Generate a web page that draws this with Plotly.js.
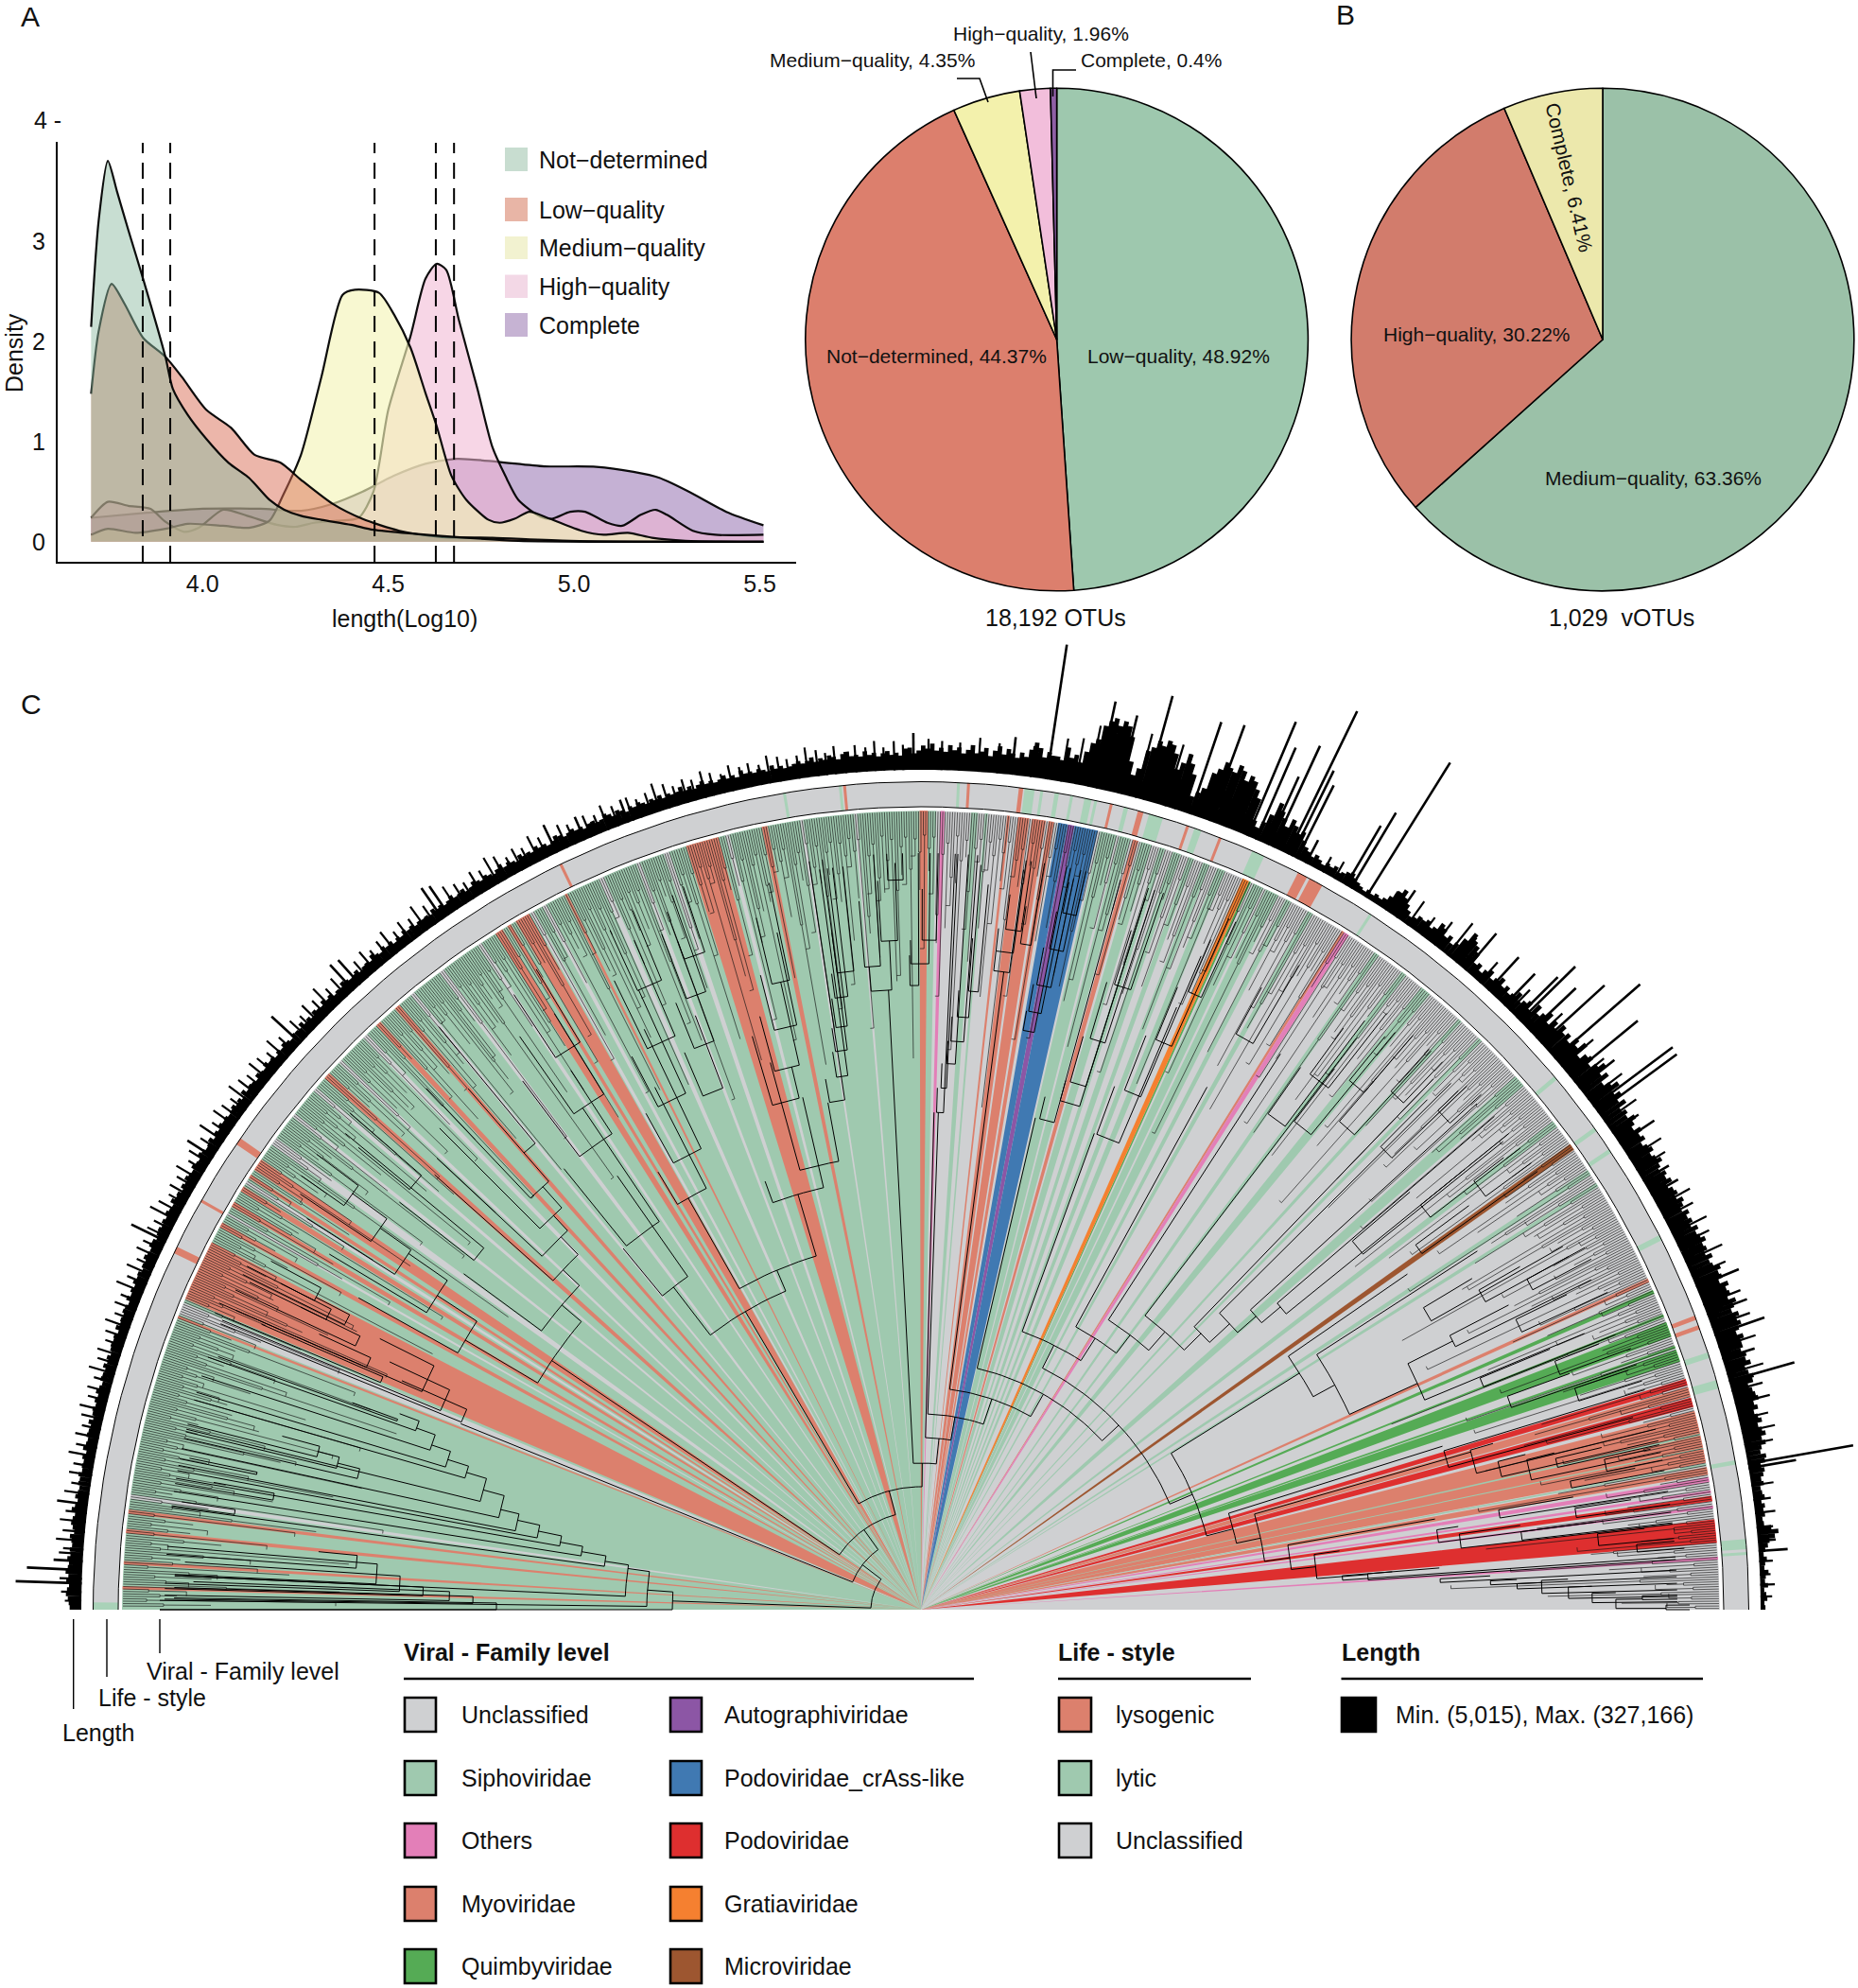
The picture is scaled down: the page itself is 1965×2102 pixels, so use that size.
<!DOCTYPE html>
<html><head><meta charset="utf-8">
<script src="https://cdn.plot.ly/plotly-3.0.1.min.js"></script>
<style>html,body{margin:0;padding:0;background:#fff}#chart{width:1965px;height:2102px}</style>
</head><body><div id="chart"></div>
<script>
// ---------- Panel A: density curves (length log10, density) ----------
const notDetX=[3.70,3.72,3.745,3.77,3.80,3.84,3.90,3.92,3.96,4.01,4.07,4.125,4.18,4.22,4.265,4.32,4.40,4.46,4.57,4.71,4.85,5.10,5.51];
const notDetY=[2.15,3.20,3.81,3.50,3.12,2.63,1.85,1.53,1.27,1.03,0.79,0.64,0.42,0.32,0.26,0.22,0.17,0.12,0.08,0.04,0.01,0,0];
const lowX=[3.70,3.72,3.755,3.79,3.84,3.90,3.944,4.01,4.077,4.14,4.21,4.265,4.35,4.43,4.53,4.64,4.78,4.99,5.51];
const lowY=[1.48,2.10,2.58,2.38,2.04,1.85,1.65,1.32,1.14,0.87,0.79,0.62,0.38,0.23,0.11,0.05,0.04,0.01,0];
const medX=[3.70,3.745,3.82,3.90,3.96,4.055,4.125,4.18,4.216,4.265,4.32,4.377,4.41,4.475,4.516,4.56,4.60,4.63,4.67,4.71,4.77,4.80,4.84,4.88,4.935,5.02,5.08,5.145,5.21,5.30,5.51];
const medY=[0.07,0.13,0.09,0.13,0.18,0.16,0.14,0.21,0.46,0.87,1.65,2.47,2.52,2.49,2.27,1.94,1.49,1.16,0.66,0.42,0.22,0.19,0.23,0.30,0.23,0.11,0.07,0.09,0.04,0.01,0];
const highX=[3.70,3.745,3.80,3.86,3.90,3.95,3.99,4.055,4.12,4.20,4.25,4.30,4.36,4.42,4.46,4.50,4.56,4.60,4.63,4.656,4.69,4.74,4.78,4.815,4.85,4.91,4.94,4.99,5.03,5.09,5.13,5.18,5.22,5.25,5.32,5.38,5.51];
const highY=[0.24,0.40,0.36,0.33,0.20,0.10,0.14,0.32,0.26,0.17,0.15,0.19,0.21,0.24,0.50,1.32,2.06,2.63,2.78,2.72,2.22,1.53,0.95,0.66,0.42,0.25,0.23,0.30,0.30,0.19,0.16,0.27,0.32,0.27,0.11,0.07,0.07];
const compX=[3.70,3.85,4.00,4.155,4.265,4.35,4.43,4.515,4.60,4.685,4.795,4.92,5.06,5.16,5.23,5.31,5.41,5.51];
const compY=[0.24,0.29,0.33,0.33,0.31,0.38,0.50,0.66,0.78,0.83,0.80,0.755,0.75,0.70,0.64,0.50,0.30,0.165];
const medianLines=[3.839,3.913,4.463,4.628,4.677];
const densityNames=['Not\u2212determined','Low\u2212quality','Medium\u2212quality','High\u2212quality','Complete'];
const densitySwatch=['#C8DDD0','#E8B5A6','#F2F2D0','#F3D8E6','#C6B3D3'];

// ---------- Panels A/B: pies ----------
const pieALabels=['Low-quality','Not-determined','Medium-quality','High-quality','Complete'];
const pieAValues=[48.92,44.37,4.35,1.96,0.40];
const pieAColors=['#9EC8AE','#DC7F6D','#F3F1AC','#F2BEDB','#8E5FA5'];
const pieBLabels=['Medium-quality','High-quality','Complete'];
const pieBValues=[63.36,30.22,6.41];
const pieBColors=['#9BC1A8','#D27C6C','#ECE8AC'];

// ---------- Panel C: family spans around the half circle, in degrees (0 = right, 180 = left) ----------
const famColors={Unclassified:'#CFD0D2',Siphoviridae:'#9FC9AF',Others:'#E37FB8',Myoviridae:'#DC806D',Quimbyviridae:'#55AB55',
 Autographiviridae:'#8C56A5','Podoviridae_crAss-like':'#4079B2',Podoviridae:'#DE2F2F',Gratiaviridae:'#F58030',Microviridae:'#9D5630'};
const unclassifiedBase=[[0,180]];
const siphoSpans=[[88.9,180],[85.9,86.4],[85.2,85.4],[74.8,77],[73.2,74],[72.2,72.6],[71,71.6],[70,70.4],[68.8,69.3],[67.6,68.2],[64.6,65.4],[63.4,64.4],[62.4,62.8],[60.6,61],[55,55.4],[52.6,53],[50.4,51.2],[47.4,47.7],[45.4,45.7],[41,41.9],[37.2,37.7],[33,33.4],[32,32.3]];
const greyStrips=[[171.7,172],[157.4,158.3],[150.2,150.4],[147.5,147.8],[143.8,144.4],[141.6,141.9],[139.2,139.5],[136.5,136.8],[133.9,134.3],[129.4,129.7],[126.7,127.1],[123.4,123.7],[119,119.3],[118,118.3],[113.4,113.8],[110.6,110.9],[108.4,108.8],[103.9,104.2],[98.5,98.7],[94.6,94.8],[75.6,75.8]];
const myoSpans=[[178.3,178.55],[176.5,176.75],[174.2,174.5],[172.8,173.1],[158.4,158.6],[152.6,157.1],[151,151.4],[149.3,149.7],[148,148.4],[147,147.3],[145.7,146.6],[137.8,138.3],[132.6,133],[130.8,131.2],[121.6,122.2],[120.9,121.2],[119.4,120.5],[116.3,116.5],[104.7,107.1],[101.1,101.5],[89.5,90.1],[83.6,83.8],[82.2,83],[81,82],[80.4,80.8],[74.2,74.6],[58,58.2],[24.2,24.5],[15.5,16.2],[10.6,14.4],[9.75,10.3]];
const siphoOver=[[152,152.3],[12.6,12.75],[11.6,11.7],[10.4,10.55]];
const othersSpans=[[88.3,88.6],[57.6,58],[9.2,9.55],[8.4,8.6],[7.3,7.5],[3.6,3.8]];
const quimbySpans=[[65.6,65.75],[23.3,23.6],[21.5,21.7],[20,21.1],[19.1,19.3],[18.1,19]];
const autographSpans=[[78.9,79.4]];
const crassSpans=[[79.4,80.1],[77.2,78.9]];
const podoSpans=[[16.3,16.8],[14.7,15.4],[7.8,8.2],[4.8,6.5]];
const gratiaSpans=[[65.75,66.25]];
const microSpans=[[35.15,35.65]];

// life-style ring
const lyticRing=[[179.5,180],[99.4,99.6],[95.5,95.7],[87.3,87.5],[82.1,82.8],[81.5,81.7],[80.4,80.7],[79.4,79.6],[78.1,78.6],[77.7,77.9],[75.5,75.8],[73,74],[70.2,70.7],[65.5,66.4],[57,57.2],[39.8,40.1],[35.3,35.6],[33.5,33.8],[26.5,26.9],[17.7,18.1],[15.5,16.1],[10.1,10.4],[4.2,4.9],[3.8,4]];
const lysoRing=[[154,154.5],[150.3,150.5],[145.3,145.8],[115.7,115.9],[95.2,95.4],[86.6,86.8],[82.9,83.2],[76.6,76.8],[74.4,74.8],[71.1,71.3],[68.7,68.9],[62.2,62.9],[61,62],[20.5,20.8],[19.8,20.1]];

// tree: clades [angle1, angle2, node radius, radius reached outward at angle1, at angle2]
const cladeTable=[
[178,142.5,53,263,78],[175.9,180,263,290,805],[172,179.3,290,313,805],[171.3,177.4,313,338,790],[170.3,172.2,338,364,800],[169.4,171,364,388,800],[168.4,170,388,413,800],[167.5,169.4,413,437,800],[166.6,169,437,457,800],[164.7,167.7,457,480,800],[163.2,166.2,480,502,800],[162.4,163.9,502,525,800],[161.4,163.3,525,546,800],[160.2,162,546,567,800],[159.4,160.5,567,589,800],[160,160.2,589,640,790],
[158,125.5,78,525,104],[156.2,157.8,525,600,800],[155,157.5,550,620,800],[153.4,156.4,576,640,790],[154,155,660,730,800],[155.4,156.4,640,700,810],[156.6,157.2,620,760,810],[152.7,153.7,680,720,800],[153,154,700,760,790],[151.8,153,720,780,800],
[174.5,175.8,599,640,800],[175.2,177.3,577,800,790],[176.3,178,552,780,800],[177.4,178.4,527,790,800],[177.8,178.9,499,770,800],[178.3,179.2,474,790,800],[179.1,180,449,790,805],[165.9,166.9,612,636,800],[165.3,166.4,636,659,800],[164.8,165.8,659,700,800],[169.8,170.4,695,760,800],[171.7,172.1,733,790,800],[168.3,168.5,717,790,800],
[146,105,104,471,130],[149.4,139.7,471,560,498],[151,147,560,680,610],[149,145.2,610,730,660],[147.5,144.8,660,770,700],[146.2,143.8,700,790,745],[145,143,745,800,800],[143.7,136.5,498,600,522],[138.2,134,522,690,548],[137,133,548,700,570],[135,131.8,570,720,600],[133.5,131,600,760,640],[142,140.4,600,700,790],[140.6,139,700,770,800],[131,129.6,640,730,800],
[120.5,89.5,130,366,155],[127.5,113,366,430,390],[129.5,125,430,495,560],[129,124,495,600,640],[127,123,600,700,680],[125,121.6,640,740,740],[123.5,121,700,780,790],[119.5,106.5,390,500,458],[121,117,500,540,620],[119,115.5,540,600,680],[117.6,114.5,600,660,720],[116,113.2,660,740,770],[114.6,112.4,720,790,800],[110,103,458,482,556],[105.4,100.4,482,600,545],
[106.4,103.4,556,632,590],[105.2,102.6,590,650,680],[104.2,102,632,692,732],[103.4,101.8,680,752,785],[113,110.8,590,640,672],[112,110,640,692,752],[111,109.2,692,765,800],[110,108.2,732,785,805],
[100.2,98.5,545,570,800],[99,97.8,570,597,790],[98.7,97.5,597,622,800],[98.3,97.2,622,653,790],[98,96.8,653,679,790],[97.5,96,679,722,790],
[93,84,155,656,182],[94.6,92.7,656,682,708],[95,93.6,682,752,800],[93.4,92,708,772,790],[92.6,91.4,772,800,800],[91,90.2,660,692,800],[90.9,89.3,683,708,800],[89.9,88.7,708,762,800],
[88.5,80,182,526,207],[88,71.4,207,526,235],[88.2,87.4,526,552,800],[87.8,87.2,552,578,800],[87.3,86.4,578,602,800],[87,85.7,602,628,800],[86.5,85.4,628,656,790],[85.6,84.7,656,712,770],
[82.6,60.4,235,680,262],[83.5,82.1,680,701,790],[83.5,82,701,725,800],[82.9,81.6,725,762,800],[81.5,80.6,712,752,800],
[80,78.9,622,643,800],[79.8,78.6,643,672,800],[79.5,78.2,672,712,790],[79,77.8,712,752,800],[78.5,77.4,752,785,800],
[76.9,43,262,534,286],[76.4,74.7,534,558,800],[74.7,72.5,558,580,800],[74.2,72.5,580,630,790],[73.5,72,630,692,800],[72.8,71.3,692,752,800],
[63.3,23,286,313,312],[70,57.3,313,536,341],[69.7,67,536,590,692],[68.6,66.8,590,652,752],[67.6,66,652,712,800],[66.6,65.4,712,772,800],
[61.3,52.7,341,630,365],[61.3,59.6,694,750,790],[57.1,48.7,365,700,391],[52.7,44.6,391,760,416],[46,42.8,416,780,445],[44.8,41.2,445,790,471],[42.3,40.1,471,795,497],[40.7,39,497,800,800],
[55,53,640,700,780],[54,52,700,760,800],[52.6,50.6,650,720,790],[51,49.4,720,780,800],[49.4,47.6,680,740,800],[47.8,46.4,740,800,800],[45.2,43.8,690,760,800],[44,42.6,760,790,805],[40.5,38.8,600,680,790],[39,37.6,680,740,800],[37.8,36.2,740,780,800],[36.4,35.4,650,720,800],
[32,14.5,312,472,341],[34.6,28.5,472,625,498],[32.8,24.5,498,700,577],[26.8,22.6,577,630,760],[31,29.5,620,680,780],[29.8,28.6,680,730,800],[28.6,27.6,730,780,800],[27.4,26.2,630,700,790],[26,24.8,700,760,800],[22.5,21.6,640,720,790],[21.4,20.2,720,770,800],[20,18.9,660,730,800],[18.7,17.6,730,790,800],
[17.4,11.9,341,578,367],[16.9,15.1,578,800,780],[16,8,367,605,394],[16.2,13.8,605,630,800],[14.4,12.9,630,660,800],[13.9,12,660,690,800],[13.4,12.6,690,740,800],[12.4,11.4,740,790,800],[11.2,10.6,700,770,800],[10,6.2,394,552,420],[8.8,7.4,552,575,800],[8,6.5,575,640,800],[9.8,9,620,700,800],[8.8,8,700,760,800],[7.4,6.6,640,720,800],[6.4,5.4,720,770,800],[5.2,4.6,760,800,810],
[8,4.5,420,447,474],[4.6,4,447,550,800],[4.6,3.8,474,500,800],[3.4,3,550,603,800],[2.9,2.5,603,631,800],[2.5,2,631,657,800],[2.7,1.5,657,685,800],[2,1,685,710,800],[1.4,0.6,710,735,800],[0.85,0.1,735,763,788],[1.1,0.8,763,800,800],[0.35,0,788,813,813]
];
// how far behind the tips the pairs of leaves join, and how far their stems run inward: a hand-set cycle
const leafJoinDepth=[26,44,30,62,28,38,84,30,52,26,70,34,46,110,28,40];
const pairStemDepth=[30,60,24,120,40,18,200,50,30,90,150];
const leafCount=1029;

// length bars: kb per 0.3 degree bin from 0 to 180
const lengthKb=[
10,8,14,12,8,16,10,12,18,10,12,16,10,14,20,24,36,44,30,16,14,20,18,22,16,24,20,18,26,22,
28,32,26,36,40,30,34,44,38,48,42,36,46,40,34,44,38,50,46,42,36,48,52,44,40,54,46,50,42,48,
48,56,44,52,60,54,62,50,58,66,52,60,56,64,48,58,54,62,50,46,56,44,52,48,58,50,46,54,42,50,
44,52,40,48,54,42,50,46,38,52,44,50,40,46,56,48,42,52,46,38,50,44,54,40,48,58,44,50,42,60,
48,62,50,70,56,44,64,52,72,58,46,60,54,40,68,50,62,44,56,48,60,42,54,38,58,46,36,52,30,44,
36,28,42,30,24,34,26,40,30,22,36,28,18,30,24,44,54,60,72,50,32,24,36,28,40,46,30,24,34,28,
30,22,18,26,36,44,58,48,30,20,14,18,12,16,10,14,18,22,30,26,20,16,24,18,22,14,20,26,18,24,
30,40,56,48,60,70,50,64,76,90,60,40,24,36,80,96,110,118,104,122,130,112,118,126,108,96,60,48,36,80,
100,118,96,80,110,126,132,118,126,110,100,60,44,70,120,140,148,136,150,142,130,100,90,70,46,60,52,72,44,50,
50,56,44,62,72,56,40,48,36,44,52,40,56,46,34,50,42,38,54,44,36,48,42,52,38,46,40,54,44,50,
40,34,46,44,30,36,32,40,36,30,38,34,42,32,36,34,44,40,30,36,40,32,36,30,40,34,30,36,32,28,
26,32,28,36,26,30,34,28,32,30,38,26,32,28,36,30,26,32,28,36,30,24,32,26,36,28,26,30,24,32,
26,30,24,28,32,26,30,22,28,32,24,30,34,26,24,30,28,22,28,26,32,28,24,30,34,26,22,28,26,32,
24,28,26,32,22,26,30,24,34,28,22,26,30,24,28,32,24,22,30,26,24,32,26,22,28,24,30,22,26,24,
26,22,28,24,30,22,26,20,28,24,30,22,26,32,22,26,24,20,28,24,22,26,30,22,24,20,28,24,30,22,
24,28,20,26,22,30,22,24,26,20,24,28,22,26,20,26,24,30,22,24,28,20,24,26,22,30,20,26,22,28,
24,22,26,24,28,22,26,20,28,24,22,26,30,22,24,28,22,24,28,22,26,20,26,24,30,22,24,28,22,26,
22,26,24,20,26,28,22,24,28,22,24,20,26,24,28,22,26,22,28,20,24,26,22,24,22,28,20,26,24,26,
24,20,26,22,28,22,24,26,20,24,28,22,26,22,26,24,20,28,22,24,26,22,24,28,20,26,22,24,22,28,
24,26,22,24,28,22,26,32,24,28,30,26,22,30,26,24,28,26,32,28,30,34,28,32,26,30,32,28,26,24];
// long single contigs: [angle, kb]
const lengthSpikes=[[81.4,280],[77.9,183],[76.4,165],[74.6,222],[71.3,200],[90.5,76],[83.8,78],[36.3,202],[36.8,204],[39.4,181],[41,233],[42.4,177],[44.5,160],[47.5,93],[49.6,99],[59.2,181],[59.6,142],[58,327],[64.1,327],[63.8,196],[65.2,230],[67.1,255],[69.9,210],[66.5,206],[65.6,154],[63.4,169],[62.7,54],[38.4,93],[43.5,130],[44.8,119],[46,91],[55.5,68],[10,220],[9.7,99],[15.8,140],[17.4,70],[19.1,109],[20.6,88],[22.6,95],[4,60],[4.7,37],[30.7,62],[29.6,64],[33.7,86],[178.2,136],[177.3,114],[176.7,60],[172.8,64],[154,80],[147.4,64],[137.6,82],[132.5,72],[131.9,68],[124.7,78],[124.2,72],[115.7,64],[113.6,52],[110.4,50]];
// shorter contigs standing above the solid band: [angle, kb]
const minorSpikes=[[91.2,52],[91.8,60],[92.5,48],[93.1,62],[93.7,50],[94.4,56],[95.1,44],[95.8,58],[96.4,46],[97,54],[97.7,62],[98.3,48],[99,44],[99.6,52],[100.3,58],[100.9,42],[101.6,50],[102.2,46],[102.9,54],[103.5,40],[104.2,48],[104.8,56],[105.5,44],[106.1,50],[106.8,42],[107.4,52],[108.1,60],[108.7,46],[109.4,40],[110,50],
[111.1,44],[111.8,54],[112.4,40],[113.1,48],[114.3,44],[114.9,52],[116.4,46],[117,58],[117.7,42],[118.3,50],[118.9,40],[119.6,54],[120.2,62],[120.9,44],[121.5,52],[122.2,40],[122.8,48],[123.5,56],[125.3,46],[126,60],[126.6,42],[127.3,50],[127.9,40],[128.6,56],[129.2,46],[129.9,40],[130.5,52],[131.2,44],[133.1,50],[133.8,42],
[134.4,60],[135,44],[135.7,52],[136.3,40],[137,48],[138.3,42],[139,56],[139.6,40],[140.3,48],[140.9,54],[141.6,42],[142.2,50],[142.9,58],[143.5,40],[144.2,46],[144.8,54],[145.5,42],[146.1,60],[146.8,44],[147.9,50],[148.5,40],[149.2,56],[149.8,44],[150.5,48],[151.1,40],[151.8,52],[152.4,62],[153.1,42],[153.7,48],[154.6,44],
[155.2,50],[155.9,40],[156.5,54],[157.2,44],[157.8,60],[158.5,42],[159.1,48],[159.8,40],[160.4,54],[161.1,46],[161.7,40],[162.4,50],[163,44],[163.7,56],[164.3,40],[165,48],[165.6,42],[166.3,54],[166.9,46],[167.6,40],[168.2,50],[168.9,44],[169.5,56],[170.2,42],[170.8,48],[171.5,40],[172.1,52],[173.4,44],[174,54],[174.7,46],[175.3,58],[175.9,42],[176.2,50],[177.9,46],[178.8,42],[179.4,34],
[0.9,24],[1.7,30],[2.4,22],[3.3,28],[5.6,34],[6.6,42],[7.5,36],[8.5,46],[11.3,60],[12.2,70],[13.1,62],[14.2,74],[15.1,66],[16.3,78],[18.2,80],[19.7,84],[21.3,82],[23.4,76],[24.5,84],[25.7,72],[26.6,80],[27.8,68],[28.7,76],[31.6,70],[32.5,78],[34.6,66],[35.5,80],[37.4,88],[38.9,78],[40.3,86],[42.9,74],[45.5,60],[48.3,56],[50.4,66],[51.2,84],[52.3,60],[53.4,46],[54.6,60],[56.4,46],[60.5,40],[61.4,36],[72.4,118],[73.1,132],[75.2,136],[78.5,128],[79.4,96],[80.4,90],[82.5,64],[84.8,62],[86.1,70],[87.4,58],[88.6,60],[89.5,64]];

// legends
const familyLegendCol1=['Unclassified','Siphoviridae','Others','Myoviridae','Quimbyviridae'];
const familyLegendCol2=['Autographiviridae','Podoviridae_crAss-like','Podoviridae','Gratiaviridae','Microviridae'];
const lifeLegend=[['lysogenic','#DC806D'],['lytic','#9FC9AF'],['Unclassified','#CFD0D2']];

// ---------- geometry helpers ----------
const W=1965,H=2102,FONT='"Liberation Sans",Arial,sans-serif';
const RAD=Math.PI/180;
const R_TIP=845,R_RING_IN=849,R_RING_OUT=875.5,R_BAR=888,PX_PER_KB=0.514;
const pol=(a,r)=>[r*Math.cos(a*RAD),r*Math.sin(a*RAD)];
function addArc(X,Y,a1,a2,r){const n=Math.max(1,Math.ceil(Math.abs(a2-a1)/1.5));
 for(let i=0;i<=n;i++){const p=pol(a1+(a2-a1)*i/n,r);X.push(p[0]);Y.push(p[1]);}}
function gap(X,Y){X.push(null);Y.push(null);}
function segment(X,Y,a,r1,r2){const p=pol(a,r1),q=pol(a,r2);X.push(p[0],q[0],null);Y.push(p[1],q[1],null);}
function wedges(spans,color,rIn,rOut){const X=[],Y=[];
 spans.forEach(s=>{addArc(X,Y,s[0],s[1],rOut);
  if(rIn>0)addArc(X,Y,s[1],s[0],rIn);else{X.push(0);Y.push(0);}
  const p=pol(s[0],rOut);X.push(p[0]);Y.push(p[1]);gap(X,Y);});
 return {type:'scatter',mode:'lines',x:X,y:Y,fill:'toself',fillcolor:color,line:{width:0,color:color},xaxis:'x2',yaxis:'y2',hoverinfo:'skip',showlegend:false};}
function strokes(X,Y,width,color){return {type:'scatter',mode:'lines',x:X,y:Y,line:{width:width,color:color||'#000'},xaxis:'x2',yaxis:'y2',hoverinfo:'skip',showlegend:false};}

const traces=[];
// density (drawn back to front)
[[compX,compY,'rgba(140,100,170,0.5)'],[highX,highY,'rgba(240,180,210,0.55)'],[medX,medY,'rgba(245,245,185,0.65)'],[lowX,lowY,'rgba(217,110,85,0.5)'],[notDetX,notDetY,'rgba(140,185,160,0.48)']]
.forEach(d=>traces.push({type:'scatter',mode:'lines',x:d[0],y:d[1],fill:'tozeroy',fillcolor:d[2],line:{color:'rgba(0,0,0,0.95)',width:2.2,shape:'spline',smoothing:0.7},xaxis:'x',yaxis:'y',hoverinfo:'skip',showlegend:false}));
// pies
function pie(labels,values,colors,cx,cy,r){return {type:'pie',labels:labels,values:values,sort:false,direction:'clockwise',rotation:0,textinfo:'none',hoverinfo:'skip',showlegend:false,
 marker:{colors:colors,line:{color:'#000',width:1.6}},domain:{x:[(cx-r)/W,(cx+r)/W],y:[1-(cy+r)/H,1-(cy-r)/H]}};}
traces.push(pie(pieALabels,pieAValues,pieAColors,1117.6,359,265.8));
traces.push(pie(pieBLabels,pieBValues,pieBColors,1695,359,265.8));
// family wedges
traces.push(wedges(unclassifiedBase,famColors.Unclassified,0,R_TIP));
traces.push(wedges(siphoSpans,famColors.Siphoviridae,0,R_TIP));
traces.push(wedges(greyStrips,famColors.Unclassified,0,R_TIP));
traces.push(wedges(myoSpans,famColors.Myoviridae,0,R_TIP));
traces.push(wedges(siphoOver,famColors.Siphoviridae,0,R_TIP));
traces.push(wedges(othersSpans,famColors.Others,0,R_TIP));
traces.push(wedges(quimbySpans,famColors.Quimbyviridae,0,R_TIP));
traces.push(wedges(autographSpans,famColors.Autographiviridae,0,R_TIP));
traces.push(wedges(crassSpans,famColors['Podoviridae_crAss-like'],0,R_TIP));
traces.push(wedges(podoSpans,famColors.Podoviridae,0,R_TIP));
traces.push(wedges(gratiaSpans,famColors.Gratiaviridae,0,R_TIP));
traces.push(wedges(microSpans,famColors.Microviridae,0,R_TIP));
// leaves: each pair joins behind the tips, each pair's stem runs further in
(function(){const X=[],Y=[],X2=[],Y2=[];const step=180/leafCount;
 let k=0;
 for(let i=0;i+1<leafCount;i+=2,k++){
  const a=(i+0.5)*step,b=(i+1.5)*step,m=(a+b)/2;
  const r=R_TIP-leafJoinDepth[k%leafJoinDepth.length];
  segment(X,Y,a,r,R_TIP-1);segment(X,Y,b,r,R_TIP-1);
  addArc(X,Y,a,b,r);gap(X,Y);
  const r2=r-pairStemDepth[k%pairStemDepth.length];
  segment(X2,Y2,m,r2,r);
  if(k%2===0){addArc(X2,Y2,m,m+2*step,r2);gap(X2,Y2);}
 }
 traces.push(strokes(X,Y,0.65,'#111'));traces.push(strokes(X2,Y2,0.65,'#111'));})();
// clades
(function(){const X=[],Y=[];cladeTable.forEach(c=>{addArc(X,Y,c[0],c[1],c[2]);gap(X,Y);segment(X,Y,c[0],c[2],c[3]);segment(X,Y,c[1],c[2],c[4]);});
 traces.push(strokes(X,Y,1,'#000'));})();
// white gap ring and life-style ring
traces.push(wedges([[0,180]],'#ffffff',R_TIP,R_RING_IN));
traces.push(wedges([[0,180]],famColors.Unclassified,R_RING_IN,R_RING_OUT));
traces.push(wedges(lyticRing,'#A9D2B8',R_RING_IN,R_RING_OUT));
traces.push(wedges(lysoRing,famColors.Myoviridae,R_RING_IN,R_RING_OUT));
(function(){const X=[],Y=[];addArc(X,Y,0,180,R_RING_IN);gap(X,Y);addArc(X,Y,0,180,R_RING_OUT);traces.push(strokes(X,Y,1,'#000'));})();
// length bars
(function(){const X=[],Y=[];const w=0.3;lengthKb.forEach((kb,i)=>{const a=i*w,r=R_BAR+kb*PX_PER_KB;
  [[a,R_BAR],[a,r],[a+w,r],[a+w,R_BAR],[a,R_BAR]].forEach(q=>{const p=pol(q[0],q[1]);X.push(p[0]);Y.push(p[1]);});gap(X,Y);});
 traces.push({type:'scatter',mode:'lines',x:X,y:Y,fill:'toself',fillcolor:'#000',line:{width:0,color:'#000'},xaxis:'x2',yaxis:'y2',hoverinfo:'skip',showlegend:false});
 const SX=[],SY=[];lengthSpikes.forEach(s=>segment(SX,SY,s[0],R_BAR,R_BAR+s[1]*PX_PER_KB));traces.push(strokes(SX,SY,2.6,'#000'));
 const MX=[],MY=[];minorSpikes.forEach(s=>segment(MX,MY,s[0],R_BAR,R_BAR+s[1]*PX_PER_KB));traces.push(strokes(MX,MY,2.2,'#000'));})();

// ---------- text and furniture in page pixels ----------
const annotations=[],shapes=[];
function note(text,x,y,size,opt){annotations.push(Object.assign({text:text,x:x/W,y:1-y/H,xref:'paper',yref:'paper',showarrow:false,xanchor:'left',yanchor:'middle',
  font:{family:FONT,size:size,color:'#111'},borderpad:0,borderwidth:0},opt||{}));}
function rule(x0,y0,x1,y1,w){shapes.push({type:'line',xref:'paper',yref:'paper',x0:x0/W,x1:x1/W,y0:1-y0/H,y1:1-y1/H,line:{color:'#000',width:w}});}
function path(pts,w){const d=pts.map((p,i)=>(i?'L':'M')+(p[0]/W)+','+(1-p[1]/H)).join(' ');shapes.push({type:'path',xref:'paper',yref:'paper',path:d,line:{color:'#000',width:w},fillcolor:'rgba(0,0,0,0)'});}
function box(x0,y0,x1,y1,color,lw){shapes.push({type:'rect',xref:'paper',yref:'paper',x0:x0/W,x1:x1/W,y0:1-y0/H,y1:1-y1/H,fillcolor:color,line:{color:'#000',width:lw}});}

note('A',22,17,30);note('B',1413,15,30);note('C',22,744,30);
// panel A extras
note('4 -',36,127,25);
note('Density',15,373,25,{xanchor:'center',textangle:-90});
note('length(Log10)',428,654,25,{xanchor:'center'});
[[156,181],[209,234],[250,274],[290.5,315],[331,356]].forEach((r,i)=>{shapes.push({type:'rect',xref:'paper',yref:'paper',x0:534/W,x1:558/W,y0:1-r[0]/H,y1:1-r[1]/H,fillcolor:densitySwatch[i],line:{width:0}});
  note(densityNames[i],570,(r[0]+r[1])/2,25);});
medianLines.forEach(v=>shapes.push({type:'line',xref:'x',yref:'y',x0:v,x1:v,y0:-0.2,y1:3.99,line:{color:'#000',width:2,dash:'17px,10px'}}));
// pie labels
note('Low\u2212quality, 48.92%',1246,376,21,{xanchor:'center'});
note('Not\u2212determined, 44.37%',990.6,376,21,{xanchor:'center'});
note('Medium\u2212quality, 4.35%',922,64,21,{xanchor:'center'});
note('High\u2212quality, 1.96%',1100.5,35,21,{xanchor:'center'});
note('Complete, 0.4%',1217,64,21,{xanchor:'center'});
note('18,192 OTUs',1116,653,25,{xanchor:'center'});
note('Medium\u2212quality, 63.36%',1748,505,21,{xanchor:'center'});
note('High\u2212quality, 30.22%',1561.5,353,21,{xanchor:'center'});
note('Complete, 6.41%',1660,187,21,{xanchor:'center',textangle:77});
note('1,029  vOTUs',1715,653,25,{xanchor:'center'});
path([[1012,83],[1036,83],[1045,108]],1.6);
path([[1090,55],[1096,104]],1.6);
path([[1138,74],[1113.5,74],[1113.5,102]],1.6);
// panel C legends
rule(77.7,1712,77.7,1807,1.4);rule(113,1712,113,1773,1.4);rule(169,1712,169,1748,1.4);
note('Viral - Family level',155,1767,25);note('Life - style',104,1795,25);note('Length',66,1832,25);
note('<b>Viral - Family level</b>',427,1747,25);note('<b>Life - style</b>',1119,1747,25);note('<b>Length</b>',1418.5,1747,25);
rule(427,1775,1030,1775,2.7);rule(1119,1775,1323,1775,2.7);rule(1418.5,1775,1801,1775,2.7);
const rowCentres=[1813,1880,1946,2013,2079];
familyLegendCol1.forEach((f,i)=>{box(428,rowCentres[i]-18,461,rowCentres[i]+18,famColors[f],2.6);note(f,488,rowCentres[i],25);});
familyLegendCol2.forEach((f,i)=>{box(709,rowCentres[i]-18,742,rowCentres[i]+18,famColors[f],2.6);note(f,766,rowCentres[i],25);});
lifeLegend.forEach((f,i)=>{box(1120,rowCentres[i]-18,1154,rowCentres[i]+18,f[1],2.6);note(f[0],1180,rowCentres[i],25);});
box(1419,rowCentres[0]-18,1455,rowCentres[0]+18,'#000',2.6);note('Min. (5,015), Max. (327,166)',1476,rowCentres[0],25);

const layout={width:W,height:H,margin:{l:0,r:0,t:0,b:0},paper_bgcolor:'#fff',plot_bgcolor:'rgba(0,0,0,0)',showlegend:false,
 xaxis:{domain:[61/W,842/W],range:[3.61,5.598],tickvals:[4,4.5,5,5.5],ticktext:['4.0','4.5','5.0','5.5'],ticks:'',showgrid:false,zeroline:false,showline:true,linecolor:'#000',linewidth:2.2,tickfont:{family:FONT,size:25,color:'#111'},anchor:'y',fixedrange:true},
 yaxis:{domain:[1-594/H,1-150/H],range:[-0.2,4],tickvals:[0,1,2,3],ticktext:['0','1','2','3'],ticks:'',showgrid:false,zeroline:false,showline:true,linecolor:'#000',linewidth:2.2,tickfont:{family:FONT,size:25,color:'#111'},anchor:'x',fixedrange:true,ticklabelstandoff:6},
 xaxis2:{domain:[0,1],range:[-974,991],visible:false,anchor:'y2',fixedrange:true},
 yaxis2:{domain:[0,1],range:[-400,1702],visible:false,anchor:'x2',fixedrange:true},
 annotations:annotations,shapes:shapes};
Plotly.newPlot('chart',traces,layout,{displayModeBar:false,staticPlot:true});
</script></body></html>
